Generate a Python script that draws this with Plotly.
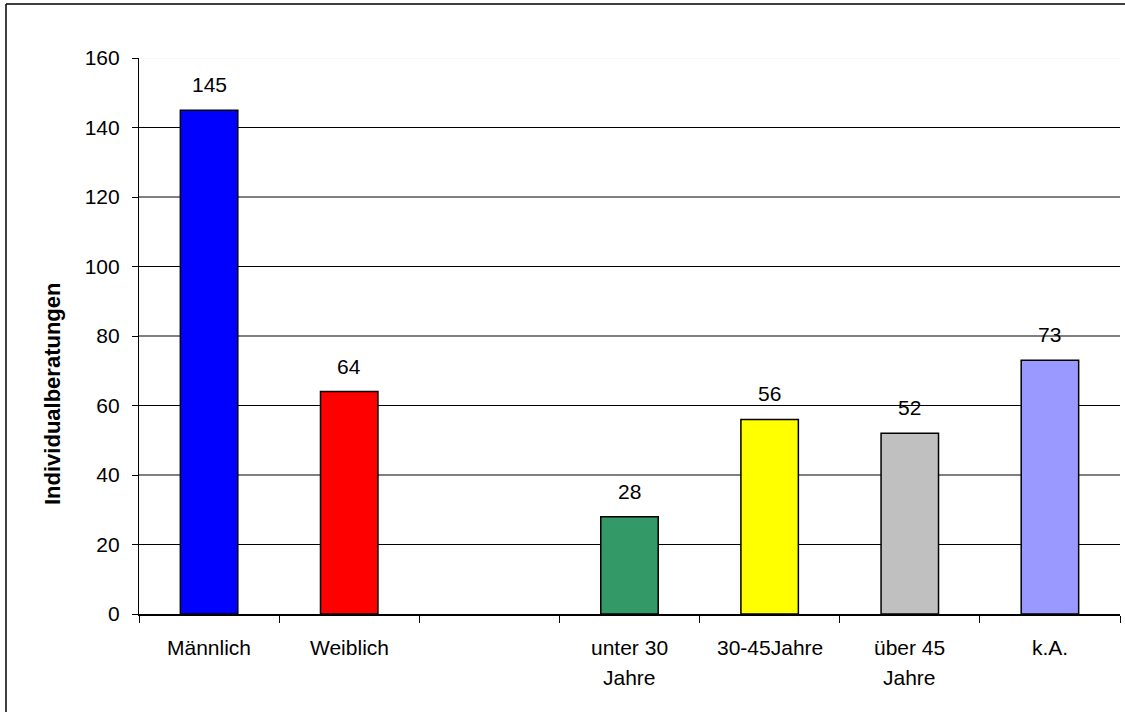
import plotly.graph_objects as go

# ---- data ----
categories = ["Männlich", "Weiblich", " ", "unter 30 Jahre", "30-45Jahre", "über 45 Jahre", "k.A."]
label_lines = [["Männlich"], ["Weiblich"], [], ["unter 30", "Jahre"], ["30-45Jahre"], ["über 45", "Jahre"], ["k.A."]]
values = [145, 64, None, 28, 56, 52, 73]
colors = ["#0000FF", "#FF0000", "#FFFFFF", "#339966", "#FFFF00", "#C0C0C0", "#9999FF"]
y_ticks = [0, 20, 40, 60, 80, 100, 120, 140, 160]
grid_values = [20, 40, 60, 80, 100, 120, 140]
y_title = "Individualberatungen"

FONT = "Liberation Sans, Arial, sans-serif"
FS = 21

fig = go.Figure()
fig.add_trace(go.Bar(
    x=categories, y=values,
    marker=dict(color=colors, line=dict(color="black", width=1.5)),
    width=0.41,
    hoverinfo="x+y",
))

shapes = []
for g in grid_values:
    shapes.append(dict(type="line", xref="paper", yref="y", x0=0, x1=1, y0=g, y1=g,
                       line=dict(color="black", width=1), layer="below"))
shapes.append(dict(type="line", xref="paper", yref="y", x0=0, x1=1, y0=160, y1=160,
                   line=dict(color="#f2f2f2", width=1), layer="below"))
# outer chart border (left and top visible)
shapes.append(dict(type="line", xref="paper", yref="paper", x0=(6 - 139) / 981, x1=(6 - 139) / 981,
                   y0=(614 - 4) / 556, y1=(614 - 720) / 556, line=dict(color="black", width=1.5)))
shapes.append(dict(type="line", xref="paper", yref="paper", x0=(6 - 139) / 981, x1=1.02,
                   y0=(614 - 4) / 556, y1=(614 - 4) / 556, line=dict(color="black", width=1.5)))

annotations = []
for c, v in zip(categories, values):
    if v is None:
        continue
    annotations.append(dict(x=c, y=v, xref="x", yref="y", text=str(v), showarrow=False,
                            yanchor="bottom", yshift=12, font=dict(family=FONT, size=FS, color="black")))
for c, lines in zip(categories, label_lines):
    for i, line in enumerate(lines):
        annotations.append(dict(x=c, y=0, xref="x", yref="paper", text=line, showarrow=False,
                                yanchor="middle", yshift=-33 - 30 * i,
                                font=dict(family=FONT, size=FS, color="black")))
# y-axis title (placed like the original, centred lower than the plot area)
annotations.append(dict(x=(52 - 139) / 981, y=(614 - 394) / 556, xref="paper", yref="paper",
                        text="<b>" + y_title + "</b>", textangle=-90, showarrow=False,
                        xanchor="center", yanchor="middle",
                        font=dict(family=FONT, size=22, color="black")))

fig.update_layout(
    width=1125, height=712,
    margin=dict(l=139, r=5, t=58, b=98),
    paper_bgcolor="white", plot_bgcolor="white",
    showlegend=False,
    font=dict(family=FONT, size=FS, color="black"),
    shapes=shapes,
    annotations=annotations,
    xaxis=dict(
        type="category", categoryorder="array", categoryarray=categories,
        range=[-0.5, 6.5],
        showticklabels=False, tickson="boundaries", ticks="outside", ticklen=7,
        tickcolor="black", showline=True, linecolor="black", linewidth=1.5,
        showgrid=False, zeroline=False,
    ),
    yaxis=dict(
        range=[0, 160], tickvals=y_ticks, ticks="outside", ticklen=6, tickcolor="black",
        showline=True, linecolor="black", linewidth=1.2, showgrid=False, zeroline=False,
        ticklabelstandoff=8,
        tickfont=dict(family=FONT, size=FS, color="black"),
    ),
)

fig.write_html("out.html", config={"displayModeBar": False},
               post_script="document.body.style.margin='0';document.body.style.overflow='hidden';")
